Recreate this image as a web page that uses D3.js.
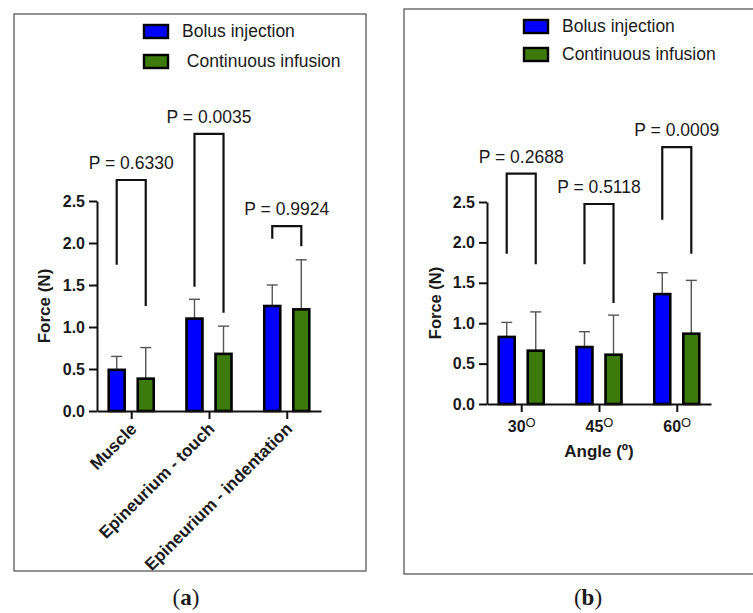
<!DOCTYPE html>
<html>
<head>
<meta charset="utf-8">
<script src="https://cdn.jsdelivr.net/npm/d3@7"></script>
<style>
  body { margin: 0; background: #fff; }
  svg { display: block; }
  text { font-family: "Liberation Sans", Arial, Helvetica, sans-serif; fill: #1a1a1a; }
</style>
</head>
<body>
<div id="chart"></div>
<script>
// Legend labels for the two panels
const legendLabelsA = ["Bolus injection", " Continuous infusion"];
const legendLabelsB = ["Bolus injection", "Continuous infusion"];
const seriesKeys = ["bolus", "infusion"];
const seriesColors = ["#0000ff", "#3b7a0b"];

// Panel (a): force by tissue
const tissueCategories = ["Muscle", "Epineurium - touch", "Epineurium - indentation"];
const tissueBolus = [0.49, 1.10, 1.25];
const tissueBolusSD = [0.16, 0.23, 0.25];
const tissueInfusion = [0.385, 0.68, 1.21];
const tissueInfusionSD = [0.37, 0.33, 0.59];
const tissuePValues = ["P = 0.6330", "P = 0.0035", "P = 0.9924"];
const tissueBracketTop = [2.75, 3.30, 2.20];
const tissueBracketLeft = [1.74, 1.48, 2.05];
const tissueBracketRight = [1.25, 1.17, 1.96];

// Panel (b): force by needle angle
const angleCategories = ["30", "45", "60"];
const angleBolus = [0.83, 0.705, 1.36];
const angleBolusSD = [0.18, 0.19, 0.265];
const angleInfusion = [0.66, 0.61, 0.87];
const angleInfusionSD = [0.48, 0.49, 0.66];
const anglePValues = ["P = 0.2688", "P = 0.5118", "P = 0.0009"];
const angleBracketTop = [2.85, 2.475, 3.18];
const angleBracketLeft = [1.86, 1.73, 2.28];
const angleBracketRight = [1.73, 1.25, 1.86];

// Shared y axis
const yTicks = [0, 0.5, 1.0, 1.5, 2.0, 2.5];

const svg = d3.select("#chart")
              .append("svg")
              .attr("width", 753)
              .attr("height", 613);

// Draw one panel
function drawPanel(cfg) {
    const g = svg.append("g");

    // Frame around the panel
    g.append("rect")
     .attr("x", cfg.frame[0]).attr("y", cfg.frame[1])
     .attr("width", cfg.frame[2]).attr("height", cfg.frame[3])
     .attr("fill", "none")
     .attr("stroke", "#5a5a5a")
     .attr("stroke-width", 1.3);

    const y = d3.scaleLinear().domain([0, 2.5]).range([cfg.bottom, cfg.top]);
    const x = d3.scalePoint().domain(cfg.categories).range([cfg.left, cfg.right]).padding(0.44);
    const sub = d3.scaleBand().domain(seriesKeys).range([-22.5, 22.5]).paddingInner(0.45);

    const rows = cfg.categories.map((c, i) => ({
        cat: c,
        values: [
            {key: "bolus", v: cfg.bolus[i], sd: cfg.bolusSD[i]},
            {key: "infusion", v: cfg.infusion[i], sd: cfg.infusionSD[i]}
        ]
    }));

    const groups = g.selectAll(".grp")
                    .data(rows)
                    .enter().append("g")
                    .attr("transform", d => `translate(${x(d.cat)},0)`);

    // Error bars (upper only)
    const err = groups.selectAll(".err")
                      .data(d => d.values)
                      .enter().append("g")
                      .attr("stroke", "#555")
                      .attr("stroke-width", 1.4);
    err.append("line")
       .attr("x1", d => sub(d.key) + sub.bandwidth() / 2)
       .attr("x2", d => sub(d.key) + sub.bandwidth() / 2)
       .attr("y1", d => y(d.v))
       .attr("y2", d => y(d.v + d.sd));
    err.append("line")
       .attr("x1", d => sub(d.key) + sub.bandwidth() / 2 - 5.5)
       .attr("x2", d => sub(d.key) + sub.bandwidth() / 2 + 5.5)
       .attr("y1", d => y(d.v + d.sd))
       .attr("y2", d => y(d.v + d.sd));

    // Bars
    groups.selectAll(".bar")
          .data(d => d.values)
          .enter().append("rect")
          .attr("x", d => sub(d.key))
          .attr("width", sub.bandwidth())
          .attr("y", d => y(d.v))
          .attr("height", d => y(0) - y(d.v))
          .attr("fill", d => seriesColors[seriesKeys.indexOf(d.key)])
          .attr("stroke", "#000")
          .attr("stroke-width", 2.6);

    // Significance brackets
    const lx = sub("bolus") + sub.bandwidth() / 2;
    const rx = sub("infusion") + sub.bandwidth() / 2;
    groups.append("path")
          .attr("d", (d, i) => `M${lx},${y(cfg.bracketLeft[i])}V${y(cfg.bracketTop[i])}H${rx}V${y(cfg.bracketRight[i])}`)
          .attr("fill", "none")
          .attr("stroke", "#111")
          .attr("stroke-width", 2.2);
    groups.append("text")
          .attr("x", 0)
          .attr("y", (d, i) => y(cfg.bracketTop[i]) - 11)
          .attr("text-anchor", "middle")
          .style("font-size", "17.5px")
          .text((d, i) => cfg.pValues[i]);

    // Y axis
    const yAxis = g.append("g")
                   .attr("transform", `translate(${cfg.left},0)`)
                   .call(d3.axisLeft(y).tickValues(yTicks).tickFormat(d3.format(".1f"))
                         .tickSize(8).tickPadding(4).tickSizeOuter(0));
    yAxis.selectAll("path, line").attr("stroke", "#111").attr("stroke-width", 2);
    yAxis.selectAll("text").style("font-size", "16px").style("font-weight", "bold").attr("fill", "#1a1a1a");

    // X axis
    const xAxis = g.append("g")
                   .attr("transform", `translate(0,${cfg.bottom})`)
                   .call(d3.axisBottom(x).tickSize(8).tickSizeOuter(0));
    xAxis.selectAll("path, line").attr("stroke", "#111").attr("stroke-width", 2);
    xAxis.selectAll("text").style("font-weight", "bold").attr("fill", "#1a1a1a");
    cfg.styleXLabels(xAxis);

    // Y axis title
    g.append("text")
     .attr("transform", `translate(${cfg.yTitleX},${(cfg.top + cfg.bottom) / 2}) rotate(-90)`)
     .attr("text-anchor", "middle")
     .style("font-size", cfg.yTitleSize)
     .style("font-weight", "bold")
     .text("Force (N)");

    // Legend
    const leg = g.selectAll(".leg")
                 .data(cfg.legend)
                 .enter().append("g")
                 .attr("transform", (d, i) => `translate(${cfg.legendX},${cfg.legendY + i * cfg.legendGap})`);
    leg.append("rect")
       .attr("width", 24).attr("height", 13)
       .attr("fill", (d, i) => seriesColors[i])
       .attr("stroke", "#000")
       .attr("stroke-width", 2.4);
    leg.append("text")
       .attr("x", 38).attr("y", 12)
       .style("font-size", "17.5px")
       .style("white-space", "pre")
       .text(d => d);

    // Panel caption
    const cap = g.append("text")
                 .attr("x", cfg.captionX).attr("y", 605)
                 .attr("text-anchor", "middle")
                 .style("font-family", "'Liberation Serif', 'DejaVu Serif', serif")
                 .style("font-size", "23px");
    cap.append("tspan").text("(");
    cap.append("tspan").style("font-weight", "bold").style("font-family", "'Liberation Serif', serif").text(cfg.caption);
    cap.append("tspan").text(")");
}

drawPanel({
    frame: [14, 14, 352, 557],
    left: 97, right: 321, top: 201, bottom: 411,
    categories: tissueCategories,
    bolus: tissueBolus, bolusSD: tissueBolusSD,
    infusion: tissueInfusion, infusionSD: tissueInfusionSD,
    pValues: tissuePValues,
    bracketTop: tissueBracketTop, bracketLeft: tissueBracketLeft, bracketRight: tissueBracketRight,
    legend: legendLabelsA, legendX: 144, legendY: 25, legendGap: 30,
    yTitleX: 50, yTitleSize: "17px",
    caption: "a", captionX: 186,
    styleXLabels: ax => {
        ax.selectAll(".tick text")
          .style("font-size", "17px")
          .attr("x", 0).attr("y", 0).attr("dy", 0)
          .attr("text-anchor", "end")
          .attr("transform", "translate(6,19) rotate(-45)");
    }
});

drawPanel({
    frame: [404, 9, 360, 565],
    left: 487, right: 711, top: 202, bottom: 404,
    categories: angleCategories,
    bolus: angleBolus, bolusSD: angleBolusSD,
    infusion: angleInfusion, infusionSD: angleInfusionSD,
    pValues: anglePValues,
    bracketTop: angleBracketTop, bracketLeft: angleBracketLeft, bracketRight: angleBracketRight,
    legend: legendLabelsB, legendX: 524, legendY: 20, legendGap: 28,
    yTitleX: 441, yTitleSize: "16.5px",
    caption: "b", captionX: 588,
    styleXLabels: ax => {
        ax.selectAll(".tick text")
          .style("font-size", "16px")
          .attr("y", 17)
          .append("tspan")
          .attr("dy", "-0.45em")
          .style("font-size", "13px")
          .style("font-weight", "normal")
          .text("O");
        // Axis title
        ax.append("text")
          .attr("x", 599).attr("y", 53)
          .attr("text-anchor", "middle")
          .attr("fill", "#1a1a1a")
          .style("font-size", "17px")
          .style("font-weight", "bold")
          .text("Angle (º)");
    }
});
</script>
</body>
</html>
